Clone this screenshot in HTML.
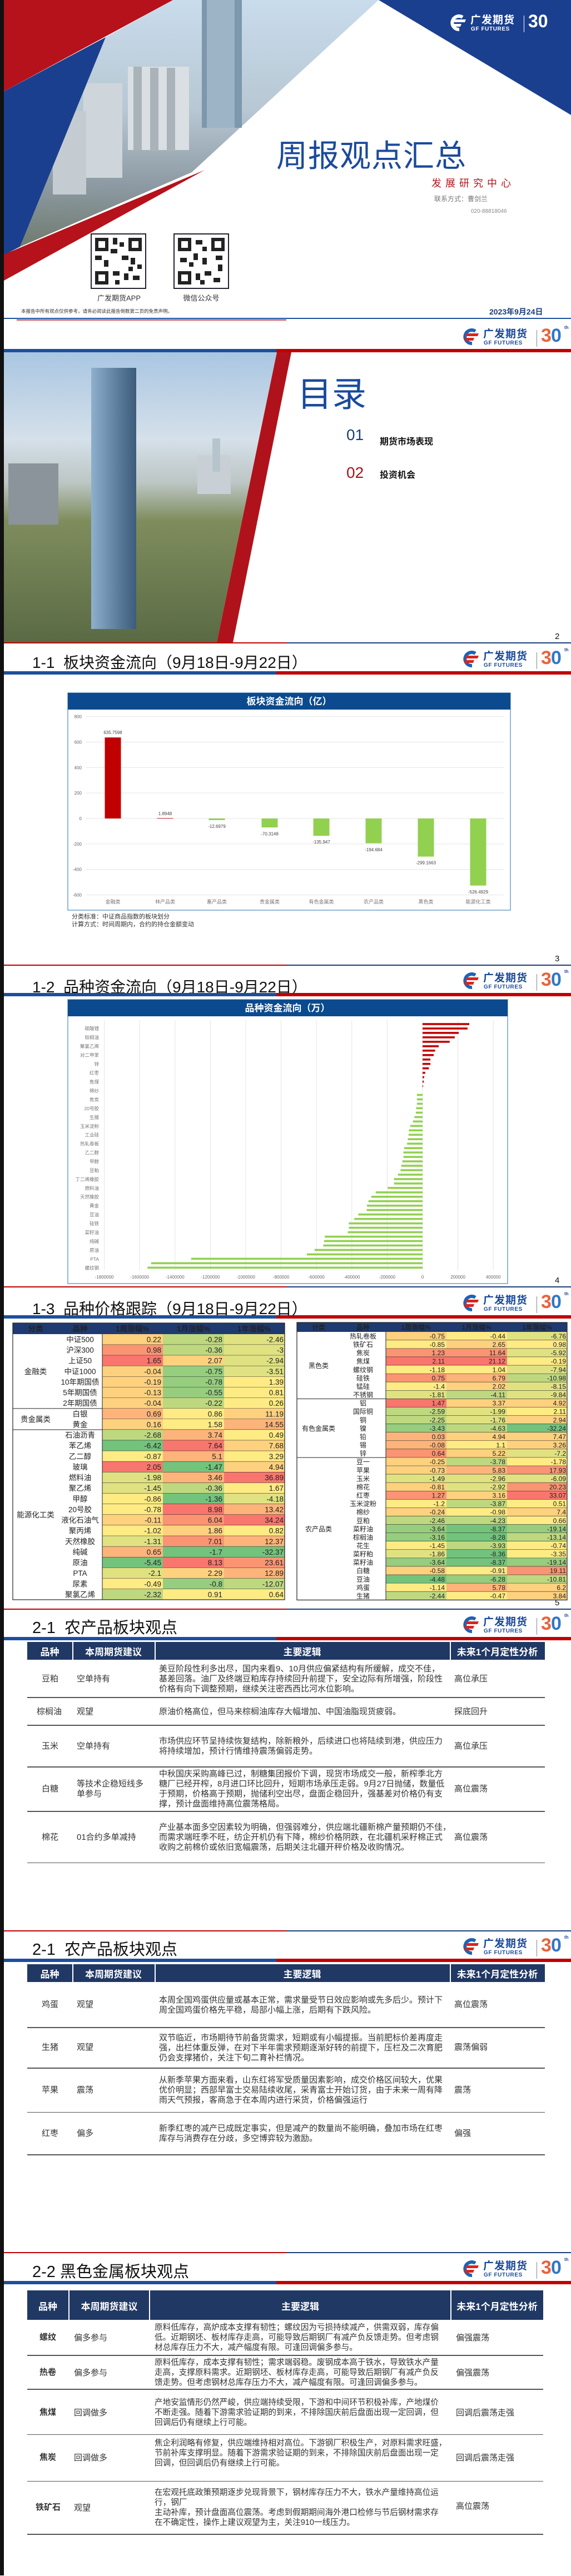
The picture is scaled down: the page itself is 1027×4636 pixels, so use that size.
<!DOCTYPE html>
<html><head><meta charset="utf-8">
<style>
*{margin:0;padding:0;box-sizing:border-box}
body{width:1027px;height:4635px;position:relative;overflow:hidden;background:#fff;font-family:"Liberation Sans","Noto Sans CJK SC",sans-serif;color:#222}
.strip{position:absolute;left:0;top:0;width:7px;height:4635px;background:#111;z-index:5}
.slide{position:absolute;left:0;width:1027px;height:580px;overflow:hidden;background:#fff}
.a{position:absolute;white-space:nowrap}
.title{position:absolute;left:58px;top:12px;font-size:28px;color:#111;white-space:nowrap}
.bar{position:absolute;top:49px;height:6px}
.bl{left:7px;width:490px;background:#1c4f9e}
.br{left:497px;width:530px;background:#c00000}
.bot1{position:absolute;top:577px;left:7px;width:508px;height:2px;background:#c00000}
.bot2{position:absolute;top:577px;left:515px;width:512px;height:2px;background:#1c3f7a}
.pn{position:absolute;left:998px;top:558px;font-size:15px;color:#111}
.logo{position:absolute;left:823px;top:6px;width:204px;height:44px}
.logo .ic{position:absolute;left:2px;top:6px}
.logo .c{position:absolute;left:46px;top:1px;font-size:19px;font-weight:bold;color:#1b4b9b;letter-spacing:1px;white-space:nowrap}
.logo .e{position:absolute;left:47px;top:27px;font-size:10px;font-weight:bold;color:#1b4b9b;letter-spacing:.6px;white-space:nowrap}
.logo .dv{position:absolute;left:142px;top:9px;width:1px;height:30px;background:#888}
.logo .t3{position:absolute;left:150px;top:0px;font-size:34px;font-weight:bold;color:#e8643c}
.logo .t0{position:absolute;left:168px;top:0px;font-size:34px;font-weight:bold;color:#2f78c9}
.logo .th{position:absolute;left:192px;top:0px;font-size:8px;font-weight:bold;color:#1b4b9b}
.th6{position:absolute;height:1.5px;background:#555}
.hd{position:absolute;background:#203864}
.ht{position:absolute;color:#fff;font-weight:bold;font-size:17px;text-align:center;white-space:nowrap}
.tx{position:absolute;font-size:15px;line-height:18px;color:#333;white-space:nowrap}
.y{fill:#FFEB84}.r1{fill:#FED17F}.r2{fill:#FCB47A}.r3{fill:#FA9473}.r4{fill:#F9766E}
.g1{fill:#E0E282}.g2{fill:#BED880}.g3{fill:#97CD7E}.g4{fill:#73C37C}
svg text{font-family:"Liberation Sans","Noto Sans CJK SC",sans-serif}
.lt text{font-size:13.5px;fill:#222}
.lt .v{text-anchor:end}
.lt .m{text-anchor:middle}
.rt text{font-size:12px;fill:#222}
.rt .v{text-anchor:end}
.rt .m{text-anchor:middle}
</style></head><body>
<div class="strip"></div>

<!-- SLIDE 1 COVER -->
<div class="slide" style="top:0">
<svg width="1027" height="580" style="position:absolute;left:0;top:0">
<defs>
<linearGradient id="sky1" x1="0" y1="0" x2="0" y2="1">
<stop offset="0" stop-color="#c9dcec"/><stop offset=".45" stop-color="#b7c7d3"/><stop offset=".75" stop-color="#8d9aa3"/><stop offset="1" stop-color="#6f7b6e"/></linearGradient>
</defs>
<polygon points="190,67 311,0 681,0 345,310 36,444" fill="url(#sky1)"/>
<rect x="363" y="0" width="72" height="230" fill="#7d97ad" transform="skewX(0)"/>
<rect x="372" y="0" width="50" height="230" fill="#9db4c6"/>
<rect x="230" y="120" width="110" height="150" fill="#d9dfe3"/>
<rect x="240" y="120" width="15" height="150" fill="#aab3ba"/>
<rect x="270" y="122" width="15" height="150" fill="#aab3ba"/>
<rect x="300" y="122" width="15" height="150" fill="#aab3ba"/>
<rect x="150" y="150" width="70" height="170" fill="#cfd6db"/>
<rect x="95" y="200" width="60" height="150" fill="#c5ccd1"/>
<polygon points="7,0 311,0 7,164.5" fill="#b5121b"/>
<polygon points="7,164.5 190,67 36,444 7,459" fill="#1b3f8f"/>
<polygon points="368,306 7,458 7,505" fill="#b5121b"/>
<polygon points="681,0 1027,0 1027,207" fill="#1b3f8f"/>
<rect x="7" y="572" width="1020" height="2" fill="#1c4f9e"/>
<rect x="30" y="575" width="485" height="1.5" fill="#c00000"/>
</svg>
<div class="a" style="left:802px;top:20px;width:200px;height:40px">
<svg width="38" height="30" style="position:absolute;left:0;top:6px" viewBox="0 0 38 30"><path d="M30 5 A12 12 0 1 0 24 27" fill="none" stroke="#fff" stroke-width="6"/><path d="M14 9 L36 9 L34 14 L12 14Z M12 17 L28 17 L26 22 L10 22Z" fill="#fff"/></svg>
<span class="a" style="left:44px;top:1px;font-size:19px;font-weight:bold;color:#fff;letter-spacing:1px">广发期货</span>
<span class="a" style="left:45px;top:27px;font-size:10px;font-weight:bold;color:#fff;letter-spacing:.6px">GF FUTURES</span>
<span class="a" style="left:140px;top:8px;width:1px;height:30px;background:#fff"></span>
<span class="a" style="left:148px;top:0;font-size:32px;font-weight:bold;color:#fff">30</span>
</div>
<div class="a" style="left:497px;top:236px;font-size:56px;color:#1a4a9c;letter-spacing:1px">周报观点汇总</div>
<div class="a" style="left:776px;top:316px;font-size:18px;color:#b0161e;letter-spacing:7px">发展研究中心</div>
<div class="a" style="left:781px;top:349px;font-size:12px;color:#777">联系方式：曹剑兰</div>
<div class="a" style="left:847px;top:375px;font-size:10px;color:#888">020-88818046</div>
<svg width="100" height="100" style="position:absolute;left:163px;top:420px" viewBox="0 0 25 25">
<rect x="0" y="0" width="25" height="25" fill="#fff" stroke="#223" stroke-width="1"/>
<g fill="#222"><rect x="2" y="2" width="6" height="6"/><rect x="17" y="2" width="6" height="6"/><rect x="2" y="17" width="6" height="6"/>
<rect x="10" y="2" width="2" height="3"/><rect x="13" y="4" width="2" height="2"/><rect x="9" y="7" width="3" height="2"/><rect x="2" y="10" width="3" height="2"/><rect x="6" y="12" width="2" height="3"/><rect x="14" y="10" width="3" height="2"/><rect x="18" y="11" width="2" height="3"/><rect x="21" y="14" width="2" height="2"/><rect x="10" y="17" width="3" height="2"/><rect x="15" y="18" width="2" height="3"/><rect x="19" y="19" width="3" height="2"/><rect x="11" y="21" width="2" height="2"/><rect x="17" y="15" width="2" height="2"/></g>
<rect x="3.5" y="3.5" width="3" height="3" fill="#fff"/><rect x="18.5" y="3.5" width="3" height="3" fill="#fff"/><rect x="3.5" y="18.5" width="3" height="3" fill="#fff"/></svg>
<svg width="100" height="100" style="position:absolute;left:312px;top:420px" viewBox="0 0 25 25">
<rect x="0" y="0" width="25" height="25" fill="#fff" stroke="#223" stroke-width="1"/>
<g fill="#222"><rect x="2" y="2" width="6" height="6"/><rect x="17" y="2" width="6" height="6"/><rect x="2" y="17" width="6" height="6"/>
<rect x="10" y="3" width="3" height="2"/><rect x="13" y="6" width="2" height="2"/><rect x="9" y="9" width="2" height="3"/><rect x="3" y="11" width="3" height="2"/><rect x="7" y="13" width="2" height="2"/><rect x="13" y="11" width="2" height="3"/><rect x="19" y="10" width="3" height="2"/><rect x="20" y="14" width="2" height="3"/><rect x="10" y="18" width="2" height="3"/><rect x="14" y="17" width="3" height="2"/><rect x="18" y="20" width="3" height="2"/><rect x="12" y="21" width="2" height="2"/></g>
<rect x="3.5" y="3.5" width="3" height="3" fill="#fff"/><rect x="18.5" y="3.5" width="3" height="3" fill="#fff"/><rect x="3.5" y="18.5" width="3" height="3" fill="#fff"/></svg>
<div class="a" style="left:164px;top:526px;width:100px;text-align:center;font-size:13px;color:#333">广发期货APP</div>
<div class="a" style="left:312px;top:526px;width:100px;text-align:center;font-size:13px;color:#333">微信公众号</div>
<div class="a" style="left:38px;top:554px;font-size:8.5px;color:#333">本报告中所有观点仅供参考，请务必阅读此报告倒数第二页的免责声明。</div>
<div class="a" style="left:880px;top:551px;font-size:14px;font-weight:bold;color:#1b3f7a">2023年9月24日</div>
</div>

<!-- SLIDE 2 -->
<div class="slide" style="top:579.4px">
<div class="logo"><svg class="ic" width="38" height="30" viewBox="0 0 38 30"><path d="M30 5 A12 12 0 1 0 24 27" fill="none" stroke="#1e63b5" stroke-width="6"/><path d="M14 9 L36 9 L34 14 L12 14Z M12 17 L28 17 L26 22 L10 22Z" fill="#d7261e"/></svg><span class="c">广发期货</span><span class="e">GF FUTURES</span><i class="dv"></i><span class="t3">3</span><span class="t0">0</span><span class="th">th</span></div>
<div class="bar bl"></div><div class="bar br"></div>
<svg width="1027" height="580" style="position:absolute;left:0;top:0">
<defs><linearGradient id="sky2" x1="0" y1="0" x2="0" y2="1">
<stop offset="0" stop-color="#a9c6e2"/><stop offset=".3" stop-color="#d5e0ea"/><stop offset=".45" stop-color="#bcc6c4"/><stop offset=".58" stop-color="#7f8d5d"/><stop offset="1" stop-color="#5a6a44"/></linearGradient>
<linearGradient id="tw" x1="0" y1="0" x2="1" y2="0"><stop offset="0" stop-color="#8fb0cc"/><stop offset=".6" stop-color="#5b7c9c"/><stop offset="1" stop-color="#3e5c7a"/></linearGradient></defs>
<polygon points="7,55 498,55 390,577 7,577" fill="url(#sky2)"/>
<rect x="15" y="255" width="90" height="110" fill="#8b949a"/>
<rect x="355" y="240" width="60" height="70" fill="#c8d0d6"/>
<rect x="382" y="210" width="14" height="60" fill="#b8c4cc"/>
<rect x="164" y="83" width="81" height="470" fill="url(#tw)"/>
<polygon points="498,55 524,55 419,577 390,577" fill="#b0121b"/>
</svg>
<div class="a" style="left:535px;top:80px;font-size:62px;color:#1a4a9c">目录</div>
<div class="a" style="left:623px;top:188px;font-size:28px;color:#1b3f7a">01</div>
<div class="a" style="left:683px;top:202px;font-size:16px;font-weight:bold;color:#111">期货市场表现</div>
<div class="a" style="left:623px;top:256px;font-size:28px;color:#a5141b">02</div>
<div class="a" style="left:683px;top:262px;font-size:16px;font-weight:bold;color:#111">投资机会</div>
<div class="pn">2</div>
<div class="bot1"></div><div class="bot2"></div>
</div>

<!-- SLIDE 3 -->
<div class="slide" style="top:1158.8px">
<div class="title">1-1&nbsp; 板块资金流向（9月18日-9月22日）</div>
<div class="logo"><svg class="ic" width="38" height="30" viewBox="0 0 38 30"><path d="M30 5 A12 12 0 1 0 24 27" fill="none" stroke="#1e63b5" stroke-width="6"/><path d="M14 9 L36 9 L34 14 L12 14Z M12 17 L28 17 L26 22 L10 22Z" fill="#d7261e"/></svg><span class="c">广发期货</span><span class="e">GF FUTURES</span><i class="dv"></i><span class="t3">3</span><span class="t0">0</span><span class="th">th</span></div>
<div class="bar bl"></div><div class="bar br"></div>
<svg width="1027" height="580" style="position:absolute;left:0;top:0">
<rect x="122" y="88" width="796" height="391" fill="#fff" stroke="#6fa0d0" stroke-width="1.5"/>
<rect x="122" y="88" width="796" height="30" fill="#0B4A8F"/>
<text x="520" y="109" text-anchor="middle" font-size="17" font-weight="bold" fill="#fff">板块资金流向（亿）</text>
<g stroke="#e4e4e4" stroke-width="1">
<line x1="155" y1="130.6" x2="907" y2="130.6"/><line x1="155" y1="176.5" x2="907" y2="176.5"/><line x1="155" y1="222.3" x2="907" y2="222.3"/><line x1="155" y1="268.1" x2="907" y2="268.1"/><line x1="155" y1="314" x2="907" y2="314"/><line x1="155" y1="359.9" x2="907" y2="359.9"/><line x1="155" y1="405.7" x2="907" y2="405.7"/><line x1="155" y1="451.6" x2="907" y2="451.6"/></g>
<g font-size="8" fill="#666" text-anchor="end">
<text x="147" y="133.5">800</text><text x="147" y="179.5">600</text><text x="147" y="225.3">400</text><text x="147" y="271">200</text><text x="147" y="317">0</text><text x="147" y="363">-200</text><text x="147" y="408.7">-400</text><text x="147" y="454.6">-600</text></g>
<rect x="188.5" y="168.2" width="29" height="145.8" fill="#C00000"/>
<rect x="282.5" y="313.4" width="29" height="0.9" fill="#C00000"/>
<rect x="375.5" y="314" width="29" height="2.9" fill="#92D050"/>
<rect x="470.5" y="314" width="29" height="16.1" fill="#92D050"/>
<rect x="563.5" y="314" width="29" height="31.2" fill="#92D050"/>
<rect x="657.5" y="314" width="29" height="44.6" fill="#92D050"/>
<rect x="751.5" y="314" width="29" height="68.6" fill="#92D050"/>
<rect x="845.5" y="314" width="29" height="120.7" fill="#92D050"/>
<g font-size="8" fill="#444" text-anchor="middle">
<text x="203" y="162">635.7598</text><text x="297" y="308">1.8948</text><text x="390" y="331">-12.6979</text><text x="485" y="344.5">-70.3148</text><text x="578" y="359">-135.947</text><text x="672" y="373">-194.684</text><text x="766" y="396.5">-299.1663</text><text x="860" y="449">-526.4929</text></g>
<g font-size="9" fill="#777" text-anchor="middle">
<text x="203" y="467">金融类</text><text x="297" y="467">林产品类</text><text x="390" y="467">畜产品类</text><text x="485" y="467">贵金属类</text><text x="578" y="467">有色金属类</text><text x="672" y="467">农产品类</text><text x="766" y="467">黑色类</text><text x="860" y="467">能源化工类</text></g>
<text x="129" y="494" font-size="11" fill="#333">分类标准：中证商品指数的板块划分</text>
<text x="129" y="508" font-size="11" fill="#333">计算方式：时间周期内，合约的持仓金额变动</text>
</svg>
<div class="pn">3</div>
<div class="bot1"></div><div class="bot2"></div>
</div>

<!-- SLIDE 4 -->
<div class="slide" style="top:1738.1px">
<div class="title" style="top:17px">1-2&nbsp; 品种资金流向（9月18日-9月22日）</div>
<div class="logo"><svg class="ic" width="38" height="30" viewBox="0 0 38 30"><path d="M30 5 A12 12 0 1 0 24 27" fill="none" stroke="#1e63b5" stroke-width="6"/><path d="M14 9 L36 9 L34 14 L12 14Z M12 17 L28 17 L26 22 L10 22Z" fill="#d7261e"/></svg><span class="c">广发期货</span><span class="e">GF FUTURES</span><i class="dv"></i><span class="t3">3</span><span class="t0">0</span><span class="th">th</span></div>
<div class="bar bl"></div><div class="bar br"></div>
<svg width="1027" height="580" style="position:absolute;left:0;top:0">
<rect x="122" y="61" width="791" height="511" fill="#fff" stroke="#6fa0d0" stroke-width="1.5"/>
<rect x="122" y="61" width="791" height="30" fill="#0B4A8F"/>
<text x="517" y="82" text-anchor="middle" font-size="17" font-weight="bold" fill="#fff">品种资金流向（万）</text>
<g stroke="#e4e4e4" stroke-width="1">
<line x1="187.6" y1="98" x2="187.6" y2="548"/><line x1="251.2" y1="98" x2="251.2" y2="548"/><line x1="314.8" y1="98" x2="314.8" y2="548"/><line x1="378.4" y1="98" x2="378.4" y2="548"/><line x1="442" y1="98" x2="442" y2="548"/><line x1="505.6" y1="98" x2="505.6" y2="548"/><line x1="569.2" y1="98" x2="569.2" y2="548"/><line x1="632.8" y1="98" x2="632.8" y2="548"/><line x1="696.4" y1="98" x2="696.4" y2="548"/><line x1="760" y1="98" x2="760" y2="548"/><line x1="823.6" y1="98" x2="823.6" y2="548"/><line x1="887.2" y1="98" x2="887.2" y2="548"/></g>
<g font-size="8" fill="#666" text-anchor="middle">
<text x="187.6" y="563">-1800000</text><text x="251.2" y="563">-1600000</text><text x="314.8" y="563">-1400000</text><text x="378.4" y="563">-1200000</text><text x="442" y="563">-1000000</text><text x="505.6" y="563">-800000</text><text x="569.2" y="563">-600000</text><text x="632.8" y="563">-400000</text><text x="696.4" y="563">-200000</text><text x="760" y="563">0</text><text x="823.6" y="563">200000</text><text x="887.2" y="563">400000</text></g>
<g fill="#C00000">
<rect x="760" y="103.2" width="84.1" height="3.6"/><rect x="760" y="111.2" width="80.9" height="3.6"/><rect x="760" y="119.1" width="65.1" height="3.6"/><rect x="760" y="127.1" width="57.9" height="3.6"/><rect x="760" y="135.1" width="48.8" height="3.6"/><rect x="760" y="143.1" width="29.1" height="3.6"/><rect x="760" y="151" width="22.6" height="3.6"/><rect x="760" y="159" width="20" height="3.6"/><rect x="760" y="167" width="14.1" height="3.6"/><rect x="760" y="174.9" width="14.1" height="3.6"/><rect x="760" y="182.9" width="11.4" height="3.6"/><rect x="760" y="190.9" width="4.9" height="3.6"/><rect x="760" y="198.8" width="2.9" height="3.6"/><rect x="760" y="206.8" width="2.3" height="3.6"/><rect x="760" y="214.8" width="1" height="3.6"/></g>
<g fill="#92D050">
<rect x="749.8" y="230.7" width="10.2" height="3.6"/><rect x="749.8" y="238.7" width="10.2" height="3.6"/><rect x="749.8" y="246.6" width="10.2" height="3.6"/><rect x="748.5" y="254.6" width="11.5" height="3.6"/><rect x="747.9" y="262.6" width="12.1" height="3.6"/><rect x="745.3" y="270.6" width="14.7" height="3.6"/><rect x="742.6" y="278.5" width="17.4" height="3.6"/><rect x="738" y="286.5" width="22" height="3.6"/><rect x="735.4" y="294.5" width="24.6" height="3.6"/><rect x="734.8" y="302.4" width="25.2" height="3.6"/><rect x="733.5" y="310.4" width="26.5" height="3.6"/><rect x="732.2" y="318.4" width="27.8" height="3.6"/><rect x="726.9" y="326.4" width="33.1" height="3.6"/><rect x="725.6" y="334.3" width="34.4" height="3.6"/><rect x="725.6" y="342.3" width="34.4" height="3.6"/><rect x="723.6" y="350.3" width="36.4" height="3.6"/><rect x="721.7" y="358.2" width="38.3" height="3.6"/><rect x="720.4" y="366.2" width="39.6" height="3.6"/><rect x="715.8" y="374.2" width="44.2" height="3.6"/><rect x="708.6" y="382.2" width="51.4" height="3.6"/><rect x="708.6" y="390.1" width="51.4" height="3.6"/><rect x="697.4" y="398.1" width="62.6" height="3.6"/><rect x="675.8" y="406.1" width="84.2" height="3.6"/><rect x="668" y="414" width="92" height="3.6"/><rect x="662.7" y="422" width="97.3" height="3.6"/><rect x="660.1" y="430" width="99.9" height="3.6"/><rect x="659.5" y="437.9" width="100.5" height="3.6"/><rect x="644.4" y="445.9" width="115.6" height="3.6"/><rect x="637.2" y="453.9" width="122.8" height="3.6"/><rect x="627.4" y="461.9" width="132.6" height="3.6"/><rect x="627.4" y="469.8" width="132.6" height="3.6"/><rect x="625.4" y="477.8" width="134.6" height="3.6"/><rect x="584.2" y="485.8" width="175.8" height="3.6"/><rect x="582.8" y="493.7" width="177.2" height="3.6"/><rect x="581.5" y="501.7" width="178.5" height="3.6"/><rect x="565.8" y="509.7" width="194.2" height="3.6"/><rect x="552" y="517.7" width="208" height="3.6"/><rect x="343.8" y="525.6" width="416.2" height="3.6"/><rect x="271.8" y="533.6" width="488.2" height="3.6"/><rect x="265.2" y="541.6" width="494.8" height="3.6"/></g>
<g font-size="8.5" fill="#777" text-anchor="end">
<text x="178" y="116">碳酸锂</text><text x="178" y="132">棕榈油</text><text x="178" y="148">聚氯乙烯</text><text x="178" y="164">对二甲苯</text><text x="178" y="180">锌</text><text x="178" y="196">红枣</text><text x="178" y="212">焦煤</text><text x="178" y="228">棉纱</text><text x="178" y="244">焦炭</text><text x="178" y="260">20号胶</text><text x="178" y="276">生猪</text><text x="178" y="292">玉米淀粉</text><text x="178" y="307.5">工业硅</text><text x="178" y="323.5">热轧卷板</text><text x="178" y="339.5">乙二醇</text><text x="178" y="355.5">甲醇</text><text x="178" y="371.5">豆粕</text><text x="178" y="387.5">丁二烯橡胶</text><text x="178" y="403.5">燃料油</text><text x="178" y="419">天然橡胶</text><text x="178" y="435">黄金</text><text x="178" y="451">豆油</text><text x="178" y="467">硅铁</text><text x="178" y="483">菜籽油</text><text x="178" y="499">纯碱</text><text x="178" y="515">原油</text><text x="178" y="531">PTA</text><text x="178" y="547">螺纹钢</text></g>
</svg>
<div class="pn">4</div>
<div class="bot1"></div><div class="bot2"></div>
</div>

<!-- SLIDE 5 -->
<div class="slide" style="top:2317.5px">
<div class="title" style="top:16px">1-3&nbsp; 品种价格跟踪（9月18日-9月22日）</div>
<div class="logo"><svg class="ic" width="38" height="30" viewBox="0 0 38 30"><path d="M30 5 A12 12 0 1 0 24 27" fill="none" stroke="#1e63b5" stroke-width="6"/><path d="M14 9 L36 9 L34 14 L12 14Z M12 17 L28 17 L26 22 L10 22Z" fill="#d7261e"/></svg><span class="c">广发期货</span><span class="e">GF FUTURES</span><i class="dv"></i><span class="t3">3</span><span class="t0">0</span><span class="th">th</span></div>
<div class="bar bl"></div><div class="bar br"></div>
<svg width="1027" height="580" style="position:absolute;left:0;top:0">
<g class="lt">
<rect x="23" y="63" width="489" height="20" fill="#1F3A70"/>
<g font-weight="bold" style="font-size:13px" fill="#fff" text-anchor="middle">
<text x="64" y="78" fill="#fff">分类</text><text x="144" y="78" fill="#fff">品种</text><text x="238" y="78" fill="#fff">1周涨幅%</text><text x="348" y="78" fill="#fff">1月涨幅%</text><text x="457" y="78" fill="#fff">1年涨幅%</text></g>
<g transform="translate(0,83)"><rect x="184" width="109" height="19.12" class="r1"/><rect x="293" width="110" height="19.12" class="g2"/><rect x="403" width="109" height="19.12" class="g1"/><text class="m" x="144" y="14.5">中证500</text><text class="v" x="290" y="14.5">0.22</text><text class="v" x="400" y="14.5">-0.28</text><text class="v" x="510" y="14.5">-2.46</text><path d="M184 19.1H512" stroke="#222"/></g>
<g transform="translate(0,102.12)"><rect x="184" width="109" height="19.12" class="r3"/><rect x="293" width="110" height="19.12" class="g2"/><rect x="403" width="109" height="19.12" class="g1"/><text class="m" x="144" y="14.5">沪深300</text><text class="v" x="290" y="14.5">0.98</text><text class="v" x="400" y="14.5">-0.36</text><text class="v" x="510" y="14.5">-3</text><path d="M184 19.1H512" stroke="#222"/></g>
<g transform="translate(0,121.24)"><rect x="184" width="109" height="19.12" class="r4"/><rect x="293" width="110" height="19.12" class="r1"/><rect x="403" width="109" height="19.12" class="g1"/><text class="m" x="144" y="14.5">上证50</text><text class="v" x="290" y="14.5">1.65</text><text class="v" x="400" y="14.5">2.07</text><text class="v" x="510" y="14.5">-2.94</text><path d="M184 19.1H512" stroke="#222"/></g>
<g transform="translate(0,140.36)"><rect x="184" width="109" height="19.12" class="r1"/><rect x="293" width="110" height="19.12" class="g3"/><rect x="403" width="109" height="19.12" class="g1"/><text class="m" x="144" y="14.5">中证1000</text><text class="v" x="290" y="14.5">-0.04</text><text class="v" x="400" y="14.5">-0.75</text><text class="v" x="510" y="14.5">-3.51</text><path d="M184 19.1H512" stroke="#222"/></g>
<g transform="translate(0,159.48)"><rect x="184" width="109" height="19.12" class="r1"/><rect x="293" width="110" height="19.12" class="g3"/><rect x="403" width="109" height="19.12" class="y"/><text class="m" x="144" y="14.5">10年期国债</text><text class="v" x="290" y="14.5">-0.19</text><text class="v" x="400" y="14.5">-0.78</text><text class="v" x="510" y="14.5">1.39</text><path d="M184 19.1H512" stroke="#222"/></g>
<g transform="translate(0,178.6)"><rect x="184" width="109" height="19.12" class="r1"/><rect x="293" width="110" height="19.12" class="g3"/><rect x="403" width="109" height="19.12" class="y"/><text class="m" x="144" y="14.5">5年期国债</text><text class="v" x="290" y="14.5">-0.13</text><text class="v" x="400" y="14.5">-0.55</text><text class="v" x="510" y="14.5">0.81</text><path d="M184 19.1H512" stroke="#222"/></g>
<g transform="translate(0,197.72)"><rect x="184" width="109" height="19.12" class="r1"/><rect x="293" width="110" height="19.12" class="g2"/><rect x="403" width="109" height="19.12" class="y"/><text class="m" x="144" y="14.5">2年期国债</text><text class="v" x="290" y="14.5">-0.04</text><text class="v" x="400" y="14.5">-0.22</text><text class="v" x="510" y="14.5">0.26</text><path d="M23 19.1H512" stroke="#222"/></g>
<g transform="translate(0,216.84)"><rect x="184" width="109" height="19.12" class="r2"/><rect x="293" width="110" height="19.12" class="y"/><rect x="403" width="109" height="19.12" class="r1"/><text class="m" x="144" y="14.5">白银</text><text class="v" x="290" y="14.5">0.69</text><text class="v" x="400" y="14.5">0.86</text><text class="v" x="510" y="14.5">11.19</text><path d="M184 19.1H512" stroke="#222"/></g>
<g transform="translate(0,235.96)"><rect x="184" width="109" height="19.12" class="r1"/><rect x="293" width="110" height="19.12" class="y"/><rect x="403" width="109" height="19.12" class="r2"/><text class="m" x="144" y="14.5">黄金</text><text class="v" x="290" y="14.5">0.16</text><text class="v" x="400" y="14.5">1.58</text><text class="v" x="510" y="14.5">14.55</text><path d="M23 19.1H512" stroke="#222"/></g>
<g transform="translate(0,255.08)"><rect x="184" width="109" height="19.12" class="g2"/><rect x="293" width="110" height="19.12" class="r2"/><rect x="403" width="109" height="19.12" class="y"/><text class="m" x="144" y="14.5">石油沥青</text><text class="v" x="290" y="14.5">-2.68</text><text class="v" x="400" y="14.5">3.74</text><text class="v" x="510" y="14.5">0.49</text><path d="M184 19.1H512" stroke="#222"/></g>
<g transform="translate(0,274.2)"><rect x="184" width="109" height="19.12" class="g4"/><rect x="293" width="110" height="19.12" class="r4"/><rect x="403" width="109" height="19.12" class="r1"/><text class="m" x="144" y="14.5">苯乙烯</text><text class="v" x="290" y="14.5">-6.42</text><text class="v" x="400" y="14.5">7.64</text><text class="v" x="510" y="14.5">7.68</text><path d="M184 19.1H512" stroke="#222"/></g>
<g transform="translate(0,293.32)"><rect x="184" width="109" height="19.12" class="y"/><rect x="293" width="110" height="19.12" class="r2"/><rect x="403" width="109" height="19.12" class="y"/><text class="m" x="144" y="14.5">乙二醇</text><text class="v" x="290" y="14.5">-0.87</text><text class="v" x="400" y="14.5">5.1</text><text class="v" x="510" y="14.5">3.29</text><path d="M184 19.1H512" stroke="#222"/></g>
<g transform="translate(0,312.44)"><rect x="184" width="109" height="19.12" class="r4"/><rect x="293" width="110" height="19.12" class="g4"/><rect x="403" width="109" height="19.12" class="r1"/><text class="m" x="144" y="14.5">玻璃</text><text class="v" x="290" y="14.5">2.05</text><text class="v" x="400" y="14.5">-1.47</text><text class="v" x="510" y="14.5">4.94</text><path d="M184 19.1H512" stroke="#222"/></g>
<g transform="translate(0,331.56)"><rect x="184" width="109" height="19.12" class="g1"/><rect x="293" width="110" height="19.12" class="r2"/><rect x="403" width="109" height="19.12" class="r4"/><text class="m" x="144" y="14.5">燃料油</text><text class="v" x="290" y="14.5">-1.98</text><text class="v" x="400" y="14.5">3.46</text><text class="v" x="510" y="14.5">36.89</text><path d="M184 19.1H512" stroke="#222"/></g>
<g transform="translate(0,350.68)"><rect x="184" width="109" height="19.12" class="g1"/><rect x="293" width="110" height="19.12" class="g2"/><rect x="403" width="109" height="19.12" class="y"/><text class="m" x="144" y="14.5">聚乙烯</text><text class="v" x="290" y="14.5">-1.45</text><text class="v" x="400" y="14.5">-0.36</text><text class="v" x="510" y="14.5">1.67</text><path d="M184 19.1H512" stroke="#222"/></g>
<g transform="translate(0,369.8)"><rect x="184" width="109" height="19.12" class="y"/><rect x="293" width="110" height="19.12" class="g4"/><rect x="403" width="109" height="19.12" class="g1"/><text class="m" x="144" y="14.5">甲醇</text><text class="v" x="290" y="14.5">-0.86</text><text class="v" x="400" y="14.5">-1.36</text><text class="v" x="510" y="14.5">-4.18</text><path d="M184 19.1H512" stroke="#222"/></g>
<g transform="translate(0,388.92)"><rect x="184" width="109" height="19.12" class="y"/><rect x="293" width="110" height="19.12" class="r4"/><rect x="403" width="109" height="19.12" class="r2"/><text class="m" x="144" y="14.5">20号胶</text><text class="v" x="290" y="14.5">-0.78</text><text class="v" x="400" y="14.5">8.98</text><text class="v" x="510" y="14.5">13.42</text><path d="M184 19.1H512" stroke="#222"/></g>
<g transform="translate(0,408.04)"><rect x="184" width="109" height="19.12" class="r1"/><rect x="293" width="110" height="19.12" class="r3"/><rect x="403" width="109" height="19.12" class="r4"/><text class="m" x="144" y="14.5">液化石油气</text><text class="v" x="290" y="14.5">-0.11</text><text class="v" x="400" y="14.5">6.04</text><text class="v" x="510" y="14.5">34.24</text><path d="M184 19.1H512" stroke="#222"/></g>
<g transform="translate(0,427.16)"><rect x="184" width="109" height="19.12" class="y"/><rect x="293" width="110" height="19.12" class="r1"/><rect x="403" width="109" height="19.12" class="y"/><text class="m" x="144" y="14.5">聚丙烯</text><text class="v" x="290" y="14.5">-1.02</text><text class="v" x="400" y="14.5">1.86</text><text class="v" x="510" y="14.5">0.82</text><path d="M184 19.1H512" stroke="#222"/></g>
<g transform="translate(0,446.28)"><rect x="184" width="109" height="19.12" class="g1"/><rect x="293" width="110" height="19.12" class="r3"/><rect x="403" width="109" height="19.12" class="r2"/><text class="m" x="144" y="14.5">天然橡胶</text><text class="v" x="290" y="14.5">-1.31</text><text class="v" x="400" y="14.5">7.01</text><text class="v" x="510" y="14.5">12.37</text><path d="M184 19.1H512" stroke="#222"/></g>
<g transform="translate(0,465.4)"><rect x="184" width="109" height="19.12" class="r2"/><rect x="293" width="110" height="19.12" class="g4"/><rect x="403" width="109" height="19.12" class="g4"/><text class="m" x="144" y="14.5">纯碱</text><text class="v" x="290" y="14.5">0.65</text><text class="v" x="400" y="14.5">-1.7</text><text class="v" x="510" y="14.5">-32.37</text><path d="M184 19.1H512" stroke="#222"/></g>
<g transform="translate(0,484.52)"><rect x="184" width="109" height="19.12" class="g4"/><rect x="293" width="110" height="19.12" class="r4"/><rect x="403" width="109" height="19.12" class="r3"/><text class="m" x="144" y="14.5">原油</text><text class="v" x="290" y="14.5">-5.45</text><text class="v" x="400" y="14.5">8.13</text><text class="v" x="510" y="14.5">23.61</text><path d="M184 19.1H512" stroke="#222"/></g>
<g transform="translate(0,503.64)"><rect x="184" width="109" height="19.12" class="g1"/><rect x="293" width="110" height="19.12" class="r1"/><rect x="403" width="109" height="19.12" class="r2"/><text class="m" x="144" y="14.5">PTA</text><text class="v" x="290" y="14.5">-2.1</text><text class="v" x="400" y="14.5">2.29</text><text class="v" x="510" y="14.5">12.89</text><path d="M184 19.1H512" stroke="#222"/></g>
<g transform="translate(0,522.76)"><rect x="184" width="109" height="19.12" class="y"/><rect x="293" width="110" height="19.12" class="g3"/><rect x="403" width="109" height="19.12" class="g2"/><text class="m" x="144" y="14.5">尿素</text><text class="v" x="290" y="14.5">-0.49</text><text class="v" x="400" y="14.5">-0.8</text><text class="v" x="510" y="14.5">-12.07</text><path d="M184 19.1H512" stroke="#222"/></g>
<g transform="translate(0,541.88)"><rect x="184" width="109" height="19.12" class="g2"/><rect x="293" width="110" height="19.12" class="y"/><rect x="403" width="109" height="19.12" class="y"/><text class="m" x="144" y="14.5">聚氯乙烯</text><text class="v" x="290" y="14.5">-2.32</text><text class="v" x="400" y="14.5">0.91</text><text class="v" x="510" y="14.5">0.64</text></g>
<text class="m" x="64" y="155">金融类</text><text class="m" x="64" y="241">贵金属类</text><text class="m" x="64" y="413">能源化工类</text>
<line x1="184" y1="83" x2="184" y2="561" stroke="#222"/>
<rect x="23" y="63" width="489" height="498" fill="none" stroke="#222" stroke-width="1.2"/>
</g>

<g class="rt">
<rect x="534" y="62" width="486" height="17" fill="#1F3A70"/>
<g font-weight="bold" text-anchor="middle">
<text x="573" y="75" fill="#fff">分类</text><text x="653" y="75" fill="#fff">品种</text><text x="748" y="75" fill="#fff">1周涨幅%</text><text x="857" y="75" fill="#fff">1月涨幅%</text><text x="966" y="75" fill="#fff">1年涨幅%</text></g>
<g transform="translate(0,79)"><rect x="694" width="109" height="15.08" class="r1"/><rect x="803" width="109" height="15.08" class="y"/><rect x="912" width="108" height="15.08" class="g1"/><text class="m" x="653" y="12">热轧卷板</text><text class="v" x="800" y="12">-0.75</text><text class="v" x="909" y="12">-0.44</text><text class="v" x="1018" y="12">-6.76</text><path d="M694 15H1020" stroke="#222"/></g>
<g transform="translate(0,94.08)"><rect x="694" width="109" height="15.08" class="y"/><rect x="803" width="109" height="15.08" class="r1"/><rect x="912" width="108" height="15.08" class="y"/><text class="m" x="653" y="12">铁矿石</text><text class="v" x="800" y="12">-0.85</text><text class="v" x="909" y="12">2.65</text><text class="v" x="1018" y="12">0.98</text><path d="M694 15H1020" stroke="#222"/></g>
<g transform="translate(0,109.16)"><rect x="694" width="109" height="15.08" class="r3"/><rect x="803" width="109" height="15.08" class="r3"/><rect x="912" width="108" height="15.08" class="g1"/><text class="m" x="653" y="12">焦炭</text><text class="v" x="800" y="12">1.23</text><text class="v" x="909" y="12">11.64</text><text class="v" x="1018" y="12">-5.92</text><path d="M694 15H1020" stroke="#222"/></g>
<g transform="translate(0,124.24)"><rect x="694" width="109" height="15.08" class="r4"/><rect x="803" width="109" height="15.08" class="r4"/><rect x="912" width="108" height="15.08" class="y"/><text class="m" x="653" y="12">焦煤</text><text class="v" x="800" y="12">2.11</text><text class="v" x="909" y="12">21.12</text><text class="v" x="1018" y="12">-0.19</text><path d="M694 15H1020" stroke="#222"/></g>
<g transform="translate(0,139.32)"><rect x="694" width="109" height="15.08" class="y"/><rect x="803" width="109" height="15.08" class="y"/><rect x="912" width="108" height="15.08" class="g1"/><text class="m" x="653" y="12">螺纹钢</text><text class="v" x="800" y="12">-1.18</text><text class="v" x="909" y="12">1.04</text><text class="v" x="1018" y="12">-7.94</text><path d="M694 15H1020" stroke="#222"/></g>
<g transform="translate(0,154.4)"><rect x="694" width="109" height="15.08" class="r3"/><rect x="803" width="109" height="15.08" class="r2"/><rect x="912" width="108" height="15.08" class="g2"/><text class="m" x="653" y="12">硅铁</text><text class="v" x="800" y="12">0.75</text><text class="v" x="909" y="12">6.79</text><text class="v" x="1018" y="12">-10.98</text><path d="M694 15H1020" stroke="#222"/></g>
<g transform="translate(0,169.48)"><rect x="694" width="109" height="15.08" class="y"/><rect x="803" width="109" height="15.08" class="r1"/><rect x="912" width="108" height="15.08" class="g1"/><text class="m" x="653" y="12">锰硅</text><text class="v" x="800" y="12">-1.4</text><text class="v" x="909" y="12">2.02</text><text class="v" x="1018" y="12">-8.15</text><path d="M694 15H1020" stroke="#222"/></g>
<g transform="translate(0,184.56)"><rect x="694" width="109" height="15.08" class="g1"/><rect x="803" width="109" height="15.08" class="g2"/><rect x="912" width="108" height="15.08" class="g1"/><text class="m" x="653" y="12">不锈钢</text><text class="v" x="800" y="12">-1.81</text><text class="v" x="909" y="12">-4.11</text><text class="v" x="1018" y="12">-9.84</text><path d="M534 15H1020" stroke="#222"/></g>
<g transform="translate(0,199.64)"><rect x="694" width="109" height="15.08" class="r4"/><rect x="803" width="109" height="15.08" class="r1"/><rect x="912" width="108" height="15.08" class="r1"/><text class="m" x="653" y="12">铝</text><text class="v" x="800" y="12">1.47</text><text class="v" x="909" y="12">3.37</text><text class="v" x="1018" y="12">4.92</text><path d="M694 15H1020" stroke="#222"/></g>
<g transform="translate(0,214.72)"><rect x="694" width="109" height="15.08" class="g2"/><rect x="803" width="109" height="15.08" class="g1"/><rect x="912" width="108" height="15.08" class="y"/><text class="m" x="653" y="12">国际铜</text><text class="v" x="800" y="12">-2.59</text><text class="v" x="909" y="12">-1.99</text><text class="v" x="1018" y="12">2.11</text><path d="M694 15H1020" stroke="#222"/></g>
<g transform="translate(0,229.8)"><rect x="694" width="109" height="15.08" class="g2"/><rect x="803" width="109" height="15.08" class="g1"/><rect x="912" width="108" height="15.08" class="r1"/><text class="m" x="653" y="12">铜</text><text class="v" x="800" y="12">-2.25</text><text class="v" x="909" y="12">-1.76</text><text class="v" x="1018" y="12">2.94</text><path d="M694 15H1020" stroke="#222"/></g>
<g transform="translate(0,244.88)"><rect x="694" width="109" height="15.08" class="g3"/><rect x="803" width="109" height="15.08" class="g2"/><rect x="912" width="108" height="15.08" class="g4"/><text class="m" x="653" y="12">镍</text><text class="v" x="800" y="12">-3.43</text><text class="v" x="909" y="12">-4.63</text><text class="v" x="1018" y="12">-32.24</text><path d="M694 15H1020" stroke="#222"/></g>
<g transform="translate(0,259.96)"><rect x="694" width="109" height="15.08" class="r2"/><rect x="803" width="109" height="15.08" class="r1"/><rect x="912" width="108" height="15.08" class="r1"/><text class="m" x="653" y="12">铅</text><text class="v" x="800" y="12">0.03</text><text class="v" x="909" y="12">4.94</text><text class="v" x="1018" y="12">7.47</text><path d="M694 15H1020" stroke="#222"/></g>
<g transform="translate(0,275.04)"><rect x="694" width="109" height="15.08" class="r2"/><rect x="803" width="109" height="15.08" class="y"/><rect x="912" width="108" height="15.08" class="r1"/><text class="m" x="653" y="12">锡</text><text class="v" x="800" y="12">-0.08</text><text class="v" x="909" y="12">1.1</text><text class="v" x="1018" y="12">3.26</text><path d="M694 15H1020" stroke="#222"/></g>
<g transform="translate(0,290.12)"><rect x="694" width="109" height="15.08" class="r3"/><rect x="803" width="109" height="15.08" class="r1"/><rect x="912" width="108" height="15.08" class="g1"/><text class="m" x="653" y="12">锌</text><text class="v" x="800" y="12">0.64</text><text class="v" x="909" y="12">5.22</text><text class="v" x="1018" y="12">-7.2</text><path d="M534 15H1020" stroke="#222"/></g>
<g transform="translate(0,305.2)"><rect x="694" width="109" height="15.08" class="r1"/><rect x="803" width="109" height="15.08" class="g2"/><rect x="912" width="108" height="15.08" class="y"/><text class="m" x="653" y="12">豆一</text><text class="v" x="800" y="12">-0.25</text><text class="v" x="909" y="12">-3.78</text><text class="v" x="1018" y="12">-1.78</text><path d="M694 15H1020" stroke="#222"/></g>
<g transform="translate(0,320.28)"><rect x="694" width="109" height="15.08" class="r1"/><rect x="803" width="109" height="15.08" class="r2"/><rect x="912" width="108" height="15.08" class="r3"/><text class="m" x="653" y="12">苹果</text><text class="v" x="800" y="12">-0.73</text><text class="v" x="909" y="12">5.83</text><text class="v" x="1018" y="12">17.93</text><path d="M694 15H1020" stroke="#222"/></g>
<g transform="translate(0,335.36)"><rect x="694" width="109" height="15.08" class="g1"/><rect x="803" width="109" height="15.08" class="g1"/><rect x="912" width="108" height="15.08" class="g1"/><text class="m" x="653" y="12">玉米</text><text class="v" x="800" y="12">-1.49</text><text class="v" x="909" y="12">-2.96</text><text class="v" x="1018" y="12">-6.09</text><path d="M694 15H1020" stroke="#222"/></g>
<g transform="translate(0,350.44)"><rect x="694" width="109" height="15.08" class="r1"/><rect x="803" width="109" height="15.08" class="g1"/><rect x="912" width="108" height="15.08" class="r3"/><text class="m" x="653" y="12">棉花</text><text class="v" x="800" y="12">-0.81</text><text class="v" x="909" y="12">-2.92</text><text class="v" x="1018" y="12">20.23</text><path d="M694 15H1020" stroke="#222"/></g>
<g transform="translate(0,365.52)"><rect x="694" width="109" height="15.08" class="r3"/><rect x="803" width="109" height="15.08" class="r1"/><rect x="912" width="108" height="15.08" class="r4"/><text class="m" x="653" y="12">红枣</text><text class="v" x="800" y="12">1.27</text><text class="v" x="909" y="12">3.16</text><text class="v" x="1018" y="12">33.07</text><path d="M694 15H1020" stroke="#222"/></g>
<g transform="translate(0,380.6)"><rect x="694" width="109" height="15.08" class="y"/><rect x="803" width="109" height="15.08" class="g2"/><rect x="912" width="108" height="15.08" class="y"/><text class="m" x="653" y="12">玉米淀粉</text><text class="v" x="800" y="12">-1.2</text><text class="v" x="909" y="12">-3.87</text><text class="v" x="1018" y="12">0.51</text><path d="M694 15H1020" stroke="#222"/></g>
<g transform="translate(0,395.68)"><rect x="694" width="109" height="15.08" class="r1"/><rect x="803" width="109" height="15.08" class="y"/><rect x="912" width="108" height="15.08" class="r1"/><text class="m" x="653" y="12">棉纱</text><text class="v" x="800" y="12">-0.24</text><text class="v" x="909" y="12">-0.98</text><text class="v" x="1018" y="12">7.4</text><path d="M694 15H1020" stroke="#222"/></g>
<g transform="translate(0,410.76)"><rect x="694" width="109" height="15.08" class="g2"/><rect x="803" width="109" height="15.08" class="g2"/><rect x="912" width="108" height="15.08" class="y"/><text class="m" x="653" y="12">豆粕</text><text class="v" x="800" y="12">-2.46</text><text class="v" x="909" y="12">-4.23</text><text class="v" x="1018" y="12">0.66</text><path d="M694 15H1020" stroke="#222"/></g>
<g transform="translate(0,425.84)"><rect x="694" width="109" height="15.08" class="g3"/><rect x="803" width="109" height="15.08" class="g4"/><rect x="912" width="108" height="15.08" class="g3"/><text class="m" x="653" y="12">菜籽油</text><text class="v" x="800" y="12">-3.64</text><text class="v" x="909" y="12">-8.37</text><text class="v" x="1018" y="12">-19.14</text><path d="M694 15H1020" stroke="#222"/></g>
<g transform="translate(0,440.92)"><rect x="694" width="109" height="15.08" class="g3"/><rect x="803" width="109" height="15.08" class="g4"/><rect x="912" width="108" height="15.08" class="g2"/><text class="m" x="653" y="12">棕榈油</text><text class="v" x="800" y="12">-3.16</text><text class="v" x="909" y="12">-8.28</text><text class="v" x="1018" y="12">-13.14</text><path d="M694 15H1020" stroke="#222"/></g>
<g transform="translate(0,456)"><rect x="694" width="109" height="15.08" class="y"/><rect x="803" width="109" height="15.08" class="g2"/><rect x="912" width="108" height="15.08" class="y"/><text class="m" x="653" y="12">花生</text><text class="v" x="800" y="12">-1.45</text><text class="v" x="909" y="12">-3.93</text><text class="v" x="1018" y="12">-0.74</text><path d="M694 15H1020" stroke="#222"/></g>
<g transform="translate(0,471.08)"><rect x="694" width="109" height="15.08" class="g1"/><rect x="803" width="109" height="15.08" class="g4"/><rect x="912" width="108" height="15.08" class="y"/><text class="m" x="653" y="12">菜籽粕</text><text class="v" x="800" y="12">-1.86</text><text class="v" x="909" y="12">-8.36</text><text class="v" x="1018" y="12">-3.35</text><path d="M694 15H1020" stroke="#222"/></g>
<g transform="translate(0,486.16)"><rect x="694" width="109" height="15.08" class="g3"/><rect x="803" width="109" height="15.08" class="g4"/><rect x="912" width="108" height="15.08" class="g3"/><text class="m" x="653" y="12">菜籽油</text><text class="v" x="800" y="12">-3.64</text><text class="v" x="909" y="12">-8.37</text><text class="v" x="1018" y="12">-19.14</text><path d="M694 15H1020" stroke="#222"/></g>
<g transform="translate(0,501.24)"><rect x="694" width="109" height="15.08" class="r1"/><rect x="803" width="109" height="15.08" class="y"/><rect x="912" width="108" height="15.08" class="r3"/><text class="m" x="653" y="12">白糖</text><text class="v" x="800" y="12">-0.58</text><text class="v" x="909" y="12">-0.91</text><text class="v" x="1018" y="12">19.11</text><path d="M694 15H1020" stroke="#222"/></g>
<g transform="translate(0,516.32)"><rect x="694" width="109" height="15.08" class="g4"/><rect x="803" width="109" height="15.08" class="g3"/><rect x="912" width="108" height="15.08" class="g2"/><text class="m" x="653" y="12">豆油</text><text class="v" x="800" y="12">-4.48</text><text class="v" x="909" y="12">-6.28</text><text class="v" x="1018" y="12">-10.81</text><path d="M694 15H1020" stroke="#222"/></g>
<g transform="translate(0,531.4)"><rect x="694" width="109" height="15.08" class="y"/><rect x="803" width="109" height="15.08" class="r2"/><rect x="912" width="108" height="15.08" class="r1"/><text class="m" x="653" y="12">鸡蛋</text><text class="v" x="800" y="12">-1.14</text><text class="v" x="909" y="12">5.78</text><text class="v" x="1018" y="12">6.2</text><path d="M694 15H1020" stroke="#222"/></g>
<g transform="translate(0,546.48)"><rect x="694" width="109" height="15.08" class="g2"/><rect x="803" width="109" height="15.08" class="y"/><rect x="912" width="108" height="15.08" class="r1"/><text class="m" x="653" y="12">生猪</text><text class="v" x="800" y="12">-2.44</text><text class="v" x="909" y="12">-0.47</text><text class="v" x="1018" y="12">3.84</text></g>
<text class="m" x="573" y="144">黑色类</text><text class="m" x="573" y="257">有色金属类</text><text class="m" x="573" y="438">农产品类</text>
<line x1="694" y1="79" x2="694" y2="561.5" stroke="#222"/>
<rect x="534" y="62" width="486" height="499.5" fill="none" stroke="#222" stroke-width="1.2"/>
</g>
</svg>
<div class="pn">5</div>
<div class="bot1"></div><div class="bot2"></div>
</div>

<!-- SLIDE 6 -->
<div class="slide" style="top:2896.9px">
<div class="title" style="top:9px;font-size:29px">2-1&nbsp; 农产品板块观点</div>
<div class="logo"><svg class="ic" width="38" height="30" viewBox="0 0 38 30"><path d="M30 5 A12 12 0 1 0 24 27" fill="none" stroke="#1e63b5" stroke-width="6"/><path d="M14 9 L36 9 L34 14 L12 14Z M12 17 L28 17 L26 22 L10 22Z" fill="#d7261e"/></svg><span class="c">广发期货</span><span class="e">GF FUTURES</span><i class="dv"></i><span class="t3">3</span><span class="t0">0</span><span class="th">th</span></div>
<div class="bar bl"></div><div class="bar br"></div>
<div class="hd" style="left:49px;top:58.6px;width:931px;height:31.5px"></div>
<div class="a" style="left:130px;top:58.6px;width:2px;height:31.5px;background:#fff"></div>
<div class="a" style="left:278px;top:58.6px;width:2px;height:31.5px;background:#fff"></div>
<div class="a" style="left:809px;top:58.6px;width:2px;height:31.5px;background:#fff"></div>
<div class="ht" style="left:49px;top:62px;width:81px">品种</div>
<div class="ht" style="left:130px;top:62px;width:148px">本周期货建议</div>
<div class="ht" style="left:278px;top:62px;width:531px">主要逻辑</div>
<div class="ht" style="left:809px;top:62px;width:171px">未来1个月定性分析</div>
<div class="th6" style="left:49px;top:157.5px;width:931px"></div>
<div class="th6" style="left:49px;top:207.5px;width:931px"></div>
<div class="th6" style="left:49px;top:282.5px;width:931px"></div>
<div class="th6" style="left:49px;top:362.5px;width:931px"></div>
<div class="th6" style="left:49px;top:455px;width:931px"></div>
<div class="tx" style="left:75px;top:116px">豆粕</div><div class="tx" style="left:138px;top:116px">空单持有</div>
<div class="tx" style="left:286px;top:98px">美豆阶段性利多出尽，国内来看9、10月供应偏紧结构有所缓解，成交不佳，<br>基差回落。油厂及终端豆粕库存持续回升前提下，安全边际有所增强，阶段性<br>价格有向下调整预期，继续关注密西西比河水位影响。</div>
<div class="tx" style="left:817px;top:116px">高位承压</div>
<div class="tx" style="left:66px;top:175px">棕榈油</div><div class="tx" style="left:138px;top:175px">观望</div>
<div class="tx" style="left:286px;top:175px">原油价格高位，但马来棕榈油库存大幅增加、中国油脂现货疲弱。</div>
<div class="tx" style="left:817px;top:175px">探底回升</div>
<div class="tx" style="left:75px;top:237px">玉米</div><div class="tx" style="left:138px;top:237px">空单持有</div>
<div class="tx" style="left:286px;top:228px">市场供应环节呈持续恢复结构，除新粮外，后续进口也将陆续到港，供应压力<br>将持续增加，预计行情维持震荡偏弱走势。</div>
<div class="tx" style="left:817px;top:237px">高位承压</div>
<div class="tx" style="left:75px;top:314px">白糖</div><div class="tx" style="left:138px;top:305px">等技术企稳短线多<br>单参与</div>
<div class="tx" style="left:286px;top:287px">中秋国庆采购高峰已过，制糖集团报价下调，现货市场成交一般，新榨季北方<br>糖厂已经开榨，8月进口环比回升，短期市场承压走弱。9月27日抛储，数量低<br>于预期，价格高于预期，抛储利空出尽，盘面企稳回升，强基差对价格仍有支<br>撑，预计盘面维持高位震荡格局。</div>
<div class="tx" style="left:817px;top:314px">高位震荡</div>
<div class="tx" style="left:75px;top:401px">棉花</div><div class="tx" style="left:138px;top:401px">01合约多单减持</div>
<div class="tx" style="left:286px;top:383px">产业基本面多空因素较为明确，但强弱难分，供应端北疆新棉产量预期仍不佳，<br>而需求端旺季不旺，纺企开机仍有下降，棉纱价格阴跌，在北疆机采籽棉正式<br>收购之前棉价或依旧宽幅震荡，后期关注北疆开秤价格及收购情况。</div>
<div class="tx" style="left:817px;top:401px">高位震荡</div>
<div class="bot1"></div><div class="bot2"></div>
</div>

<!-- SLIDE 7 -->
<div class="slide" style="top:3476.3px">
<div class="title" style="top:9px;font-size:29px">2-1&nbsp; 农产品板块观点</div>
<div class="logo"><svg class="ic" width="38" height="30" viewBox="0 0 38 30"><path d="M30 5 A12 12 0 1 0 24 27" fill="none" stroke="#1e63b5" stroke-width="6"/><path d="M14 9 L36 9 L34 14 L12 14Z M12 17 L28 17 L26 22 L10 22Z" fill="#d7261e"/></svg><span class="c">广发期货</span><span class="e">GF FUTURES</span><i class="dv"></i><span class="t3">3</span><span class="t0">0</span><span class="th">th</span></div>
<div class="bar bl"></div><div class="bar br"></div>
<div class="hd" style="left:49px;top:59px;width:931px;height:31.5px"></div>
<div class="a" style="left:130px;top:59px;width:2px;height:31.5px;background:#fff"></div>
<div class="a" style="left:278px;top:59px;width:2px;height:31.5px;background:#fff"></div>
<div class="a" style="left:809px;top:59px;width:2px;height:31.5px;background:#fff"></div>
<div class="ht" style="left:49px;top:62.5px;width:81px">品种</div>
<div class="ht" style="left:130px;top:62.5px;width:148px">本周期货建议</div>
<div class="ht" style="left:278px;top:62.5px;width:531px">主要逻辑</div>
<div class="ht" style="left:809px;top:62.5px;width:171px">未来1个月定性分析</div>
<div class="th6" style="left:49px;top:172px;width:931px"></div>
<div class="th6" style="left:49px;top:245px;width:931px"></div>
<div class="th6" style="left:49px;top:324.5px;width:931px"></div>
<div class="th6" style="left:49px;top:401px;width:931px"></div>
<div class="tx" style="left:75px;top:123px">鸡蛋</div><div class="tx" style="left:138px;top:123px">观望</div>
<div class="tx" style="left:286px;top:114.5px">本周全国鸡蛋供应量或基本正常，需求量受节日效应影响或先多后少。预计下<br>周全国鸡蛋价格先平稳，局部小幅上涨，后期有下跌风险。</div>
<div class="tx" style="left:817px;top:123px">高位震荡</div>
<div class="tx" style="left:75px;top:200px">生猪</div><div class="tx" style="left:138px;top:200px">观望</div>
<div class="tx" style="left:286px;top:182.5px">双节临近，市场期待节前备货需求，短期或有小幅提振。当前肥标价差再度走<br>强，出栏体重反弹，在对下半年需求预期逐渐好转的前提下，压栏及二次育肥<br>仍会支撑猪价，关注下旬二育补栏情况。</div>
<div class="tx" style="left:817px;top:200px">震荡偏弱</div>
<div class="tx" style="left:75px;top:277px">苹果</div><div class="tx" style="left:138px;top:277px">震荡</div>
<div class="tx" style="left:286px;top:259px">从新季苹果方面来看，山东红将军受质量因素影响，成交价格区间较大，优果<br>优价明显；西部早富士交易陆续收尾，采青富士开始订货，由于未来一周有降<br>雨天气预报，客商急于在本周内进行采货，价格偏强运行</div>
<div class="tx" style="left:817px;top:277px">震荡</div>
<div class="tx" style="left:75px;top:355px">红枣</div><div class="tx" style="left:138px;top:355px">偏多</div>
<div class="tx" style="left:286px;top:346px">新季红枣的减产已成既定事实，但是减产的数量尚不能明确，叠加市场在红枣<br>库存与消费存在分歧，多空博弈较为激励。</div>
<div class="tx" style="left:817px;top:355px">偏强</div>
<div class="bot1"></div><div class="bot2"></div>
</div>

<!-- SLIDE 8 -->
<div class="slide" style="top:4055.6px">
<div class="title" style="top:9px;font-size:29px">2-2 黑色金属板块观点</div>
<div class="logo"><svg class="ic" width="38" height="30" viewBox="0 0 38 30"><path d="M30 5 A12 12 0 1 0 24 27" fill="none" stroke="#1e63b5" stroke-width="6"/><path d="M14 9 L36 9 L34 14 L12 14Z M12 17 L28 17 L26 22 L10 22Z" fill="#d7261e"/></svg><span class="c">广发期货</span><span class="e">GF FUTURES</span><i class="dv"></i><span class="t3">3</span><span class="t0">0</span><span class="th">th</span></div>
<div class="bar bl"></div><div class="bar br"></div>
<div class="hd" style="left:49px;top:66.5px;width:928px;height:53px"></div>
<div class="a" style="left:123px;top:66.5px;width:2px;height:53px;background:#fff"></div>
<div class="a" style="left:268px;top:66.5px;width:2px;height:53px;background:#fff"></div>
<div class="a" style="left:810px;top:66.5px;width:2px;height:53px;background:#fff"></div>
<div class="ht" style="left:49px;top:81px;width:74px">品种</div>
<div class="ht" style="left:124px;top:81px;width:145px">本周期货建议</div>
<div class="ht" style="left:269px;top:81px;width:542px">主要逻辑</div>
<div class="ht" style="left:811px;top:81px;width:166px">未来1个月定性分析</div>
<div class="th6" style="left:49px;top:182.5px;width:928px"></div>
<div class="th6" style="left:49px;top:243.5px;width:928px"></div>
<div class="th6" style="left:49px;top:325px;width:928px"></div>
<div class="th6" style="left:49px;top:409px;width:928px"></div>
<div class="th6" style="left:49px;top:504.5px;width:928px"></div>
<div class="tx" style="left:71px;top:142px;font-weight:bold">螺纹</div><div class="tx" style="left:133px;top:143px">偏多参与</div>
<div class="tx" style="left:278px;top:124px;font-size:14.6px">原料低库存，高炉成本支撑有韧性；螺纹因为亏损持续减产，供需双弱，库存偏<br>低。近期钢坯、板材库存走高，可能导致后期钢厂有减产负反馈走势。但考虑钢<br>材总库存压力不大，减产幅度有限。可逢回调偏多参与。</div>
<div class="tx" style="left:820px;top:143px">偏强震荡</div>
<div class="tx" style="left:71px;top:205px;font-weight:bold">热卷</div><div class="tx" style="left:133px;top:206px">偏多参与</div>
<div class="tx" style="left:278px;top:187.5px;font-size:14.6px">原料低库存，成本支撑有韧性；需求端弱稳。废钢成本高于铁水，导致铁水产量<br>走高，支撑原料需求。近期钢坯、板材库存走高，可能导致后期钢厂有减产负反<br>馈走势。但考虑钢材总库存压力不大，减产幅度有限。可逢回调偏多参与。</div>
<div class="tx" style="left:820px;top:206px">偏强震荡</div>
<div class="tx" style="left:71px;top:277px;font-weight:bold">焦煤</div><div class="tx" style="left:133px;top:278px">回调做多</div>
<div class="tx" style="left:278px;top:259.5px;font-size:14.6px">产地安监情形仍然严峻，供应端持续受限，下游和中间环节积极补库，产地煤价<br>不断走强。随着下游需求验证期的到来，不排除国庆前后盘面出现一定回调，但<br>回调后仍有继续上行可能。</div>
<div class="tx" style="left:820px;top:278px">回调后震荡走强</div>
<div class="tx" style="left:71px;top:358px;font-weight:bold">焦炭</div><div class="tx" style="left:133px;top:359px">回调做多</div>
<div class="tx" style="left:278px;top:332px;font-size:14.6px">焦企利润略有修复，供应端维持相对高位。下游钢厂积极生产，对原料需求旺盛，<br>节前补库支撑明显。随着下游需求验证期的到来，不排除国庆前后盘面出现一定<br>回调，但回调后仍有继续上行可能。</div>
<div class="tx" style="left:820px;top:359px">回调后震荡走强</div>
<div class="tx" style="left:64px;top:448px;font-weight:bold">铁矿石</div><div class="tx" style="left:133px;top:449px">观望</div>
<div class="tx" style="left:278px;top:421px;font-size:14.6px">在宏观托底政策预期逐步兑现背景下，钢材库存压力不大，铁水产量维持高位运<br>行，钢厂<br>主动补库，预计盘面高位震荡。考虑到假期期间海外港口检修与节后钢材需求存<br>在不确定性，操作上建议观望为主，关注910一线压力。</div>
<div class="tx" style="left:820px;top:446px">高位震荡</div>
</div>
</body></html>
